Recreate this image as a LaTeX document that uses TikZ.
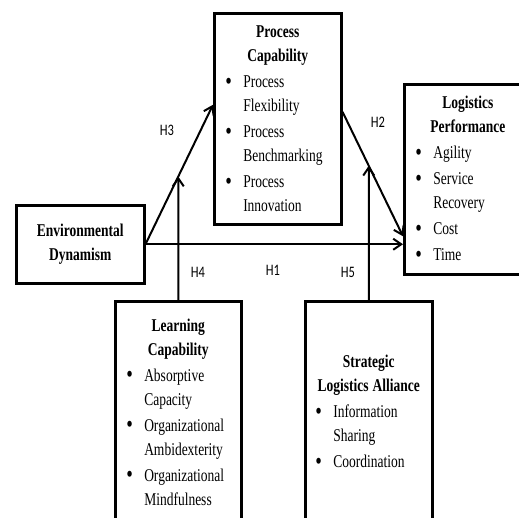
\documentclass[tikz,border=0pt]{standalone}
\usepackage{fontspec}
\setmainfont[FakeStretch=0.75]{Liberation Serif}
\newfontfamily\hypfont[FakeStretch=0.78]{Carlito}
\usetikzlibrary{arrows.meta}

\newcommand{\boxhead}[1]{{\centering\bfseries #1\par}}
\newcommand{\bitem}[1]{\par\vspace{2pt}{\let\\\newline\hangindent=18pt\hangafter=1\noindent
    \hbox to 18pt{\raisebox{-1.5pt}{\fontsize{25pt}{25pt}\selectfont\textbullet}\hfil}#1\par}}

\begin{document}
\begin{tikzpicture}[x=1pt, y=-1pt,
    construct/.style={draw, line width=2.5pt, inner xsep=11pt, inner ysep=0pt, anchor=north west,
        font=\fontsize{18pt}{24pt}\selectfont},
    link/.style={line width=2pt, -{Straight Barb[length=8pt, width=11pt, line width=2pt]}},
    hyp/.style={font=\hypfont\fontsize{16pt}{18pt}\selectfont}]
        \clip (0,0) rectangle (519,517);

        % Constructs
        \node[construct, text width=106pt, minimum height=78pt] (ed) at (15,204)
            {\boxhead{Environmental\\Dynamism}};
        \node[construct, text width=105pt, minimum height=211pt] (pc) at (213,12)
            {\boxhead{Process\\Capability}
             \bitem{Process\\Flexibility}
             \bitem{Process\\Benchmarking}
             \bitem{Process\\Innovation}};
        \node[construct, text width=105pt, minimum height=190pt] (lp) at (403,83)
            {\boxhead{Logistics\\Performance}
             \bitem{Agility}
             \bitem{Service\\Recovery}
             \bitem{Cost}
             \bitem{Time}};
        \node[construct, text width=104pt, minimum height=222pt] (lc) at (114,300)
            {\boxhead{Learning\\Capability}
             \bitem{Absorptive\\Capacity}
             \bitem{Organizational\\Ambidexterity}
             \bitem{Organizational\\Mindfulness}};
        \node[construct, inner xsep=10pt, text width=107pt, minimum height=222pt] (sla) at (304,300)
            {\boxhead{Strategic\\Logistics\hspace{4pt}Alliance}
             \bitem{Information\\Sharing}
             \bitem{Coordination}};

        % Arrow ends
        \coordinate (pcin) at ([yshift=14pt]pc.west);
        \coordinate (pcout) at ([yshift=7pt]pc.east);
        \coordinate (lpin) at ([yshift=-57pt]lp.west);
        \coordinate (lpin2) at (ed.east -| lp.west);

        \draw[link] (ed.east) -- (pcin);
        \draw[link] (pcout) -- (lpin);
        \draw[link] (ed.east) -- (lpin2);
        \draw[link] (lc.north) -- (intersection of lc.north--lc.south and ed.east--pcin);
        \draw[link] (sla.north) -- (intersection of sla.north--sla.south and pcout--lpin);

        % Hypotheses
        \node[hyp] (h1) at (273,270) {H1};
        \node[hyp] (h2) at (378,122) {H2};
        \node[hyp] (h3) at (167,130) {H3};
        \node[hyp] (h4) at (198,272) {H4};
        \node[hyp] (h5) at (348,272) {H5};
    \end{tikzpicture}
\end{document}
